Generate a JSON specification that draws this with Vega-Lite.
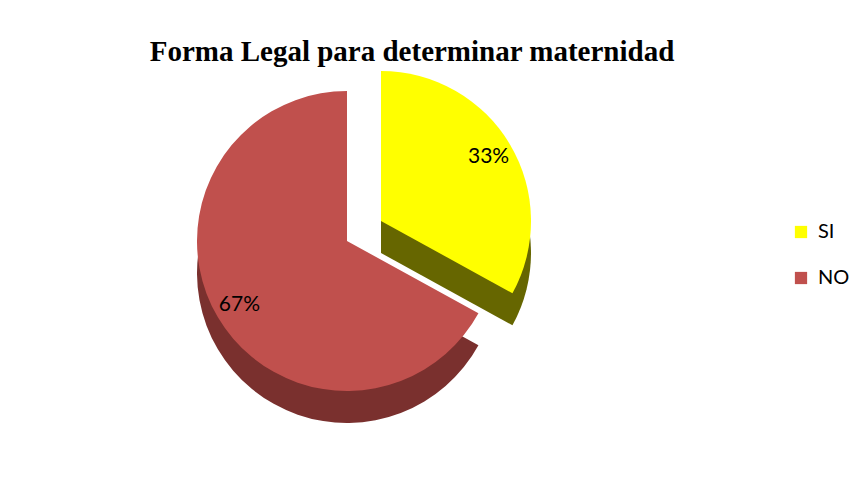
{
  "$schema": "https://vega.github.io/schema/vega-lite/v6.json",
  "width": 694,
  "height": 290,
  "padding": {"left": 0, "top": 38, "right": 0, "bottom": 0},
  "background": "white",
  "config": {"view": {"stroke": null}},
  "title": {
    "text": "Forma Legal para determinar maternidad",
    "font": "Liberation Serif",
    "fontSize": 29,
    "fontWeight": "bold",
    "color": "black",
    "anchor": "middle",
    "frame": "group",
    "dx": 65,
    "offset": 4
  },
  "data": {
    "values": [
      {"cat": "SI", "value": 0.33},
      {"cat": "NO", "value": 0.67}
    ]
  },
  "encoding": {
    "theta": {"field": "value", "type": "quantitative", "stack": true},
    "order": {"field": "cat", "sort": "descending"}
  },
  "layer": [
    {
      "mark": {"type": "arc", "outerRadius": 150, "yOffset": 32},
      "encoding": {
        "color": {"value": "#7a302e"},
        "opacity": {"condition": {"test": "datum.cat === 'NO'", "value": 1}, "value": 0}
      }
    },
    {
      "mark": {"type": "arc", "outerRadius": 150, "xOffset": 34, "yOffset": 12},
      "encoding": {
        "color": {"value": "#666600"},
        "opacity": {"condition": {"test": "datum.cat === 'SI'", "value": 1}, "value": 0}
      }
    },
    {
      "mark": {"type": "arc", "outerRadius": 150},
      "encoding": {
        "color": {
          "field": "cat",
          "type": "nominal",
          "scale": {"domain": ["SI", "NO"], "range": ["#FFFF00", "#C0504D"]},
          "legend": {
            "title": null,
            "orient": "none",
            "legendX": 791,
            "legendY": 126,
            "symbolType": "square",
            "symbolSize": 150,
            "symbolStrokeWidth": 0,
            "labelFont": "Lato",
            "labelFontSize": 20,
            "labelColor": "black",
            "labelOffset": 7,
            "rowPadding": 26
          }
        },
        "opacity": {"condition": {"test": "datum.cat === 'NO'", "value": 1}, "value": 0}
      }
    },
    {
      "mark": {"type": "arc", "outerRadius": 150, "xOffset": 34, "yOffset": -20},
      "encoding": {
        "color": {"field": "cat", "type": "nominal"},
        "opacity": {"condition": {"test": "datum.cat === 'SI'", "value": 1}, "value": 0}
      }
    },
    {
      "mark": {"type": "text", "radius": 125, "xOffset": 34, "yOffset": -20, "font": "Lato", "fontSize": 21, "color": "black"},
      "encoding": {
        "text": {"field": "value", "type": "quantitative", "format": ".0%"},
        "opacity": {"condition": {"test": "datum.cat === 'SI'", "value": 1}, "value": 0}
      }
    },
    {
      "mark": {"type": "text", "radius": 125, "font": "Lato", "fontSize": 21, "color": "black"},
      "encoding": {
        "text": {"field": "value", "type": "quantitative", "format": ".0%"},
        "opacity": {"condition": {"test": "datum.cat === 'NO'", "value": 1}, "value": 0}
      }
    }
  ]
}
